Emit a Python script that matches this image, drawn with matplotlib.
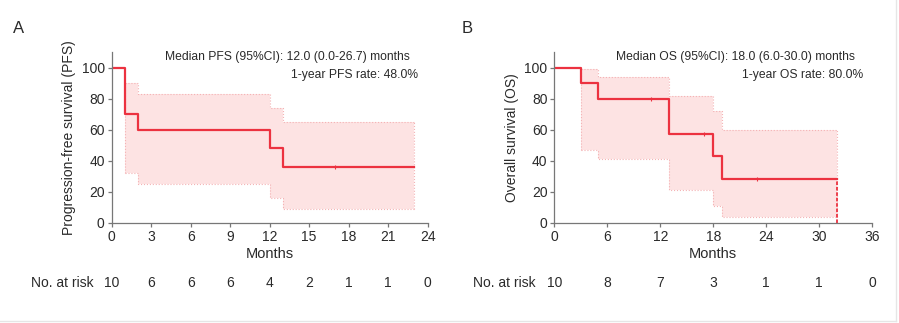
import numpy as np
import matplotlib.pyplot as plt
from matplotlib import transforms
from matplotlib.lines import Line2D

plt.rcParams['font.family'] = ['Liberation Sans', 'DejaVu Sans']

# Panel A: progression-free survival
pfs_t = [0, 1, 2, 12, 13, 23]
pfs_s = [100, 70, 60, 48, 36, 36]
pfs_lo = [100, 32, 25, 16, 9, 9]
pfs_hi = [100, 90, 83, 74, 65, 65]
pfs_cens = [17]
pfs_risk_t = [0, 3, 6, 9, 12, 15, 18, 21, 24]
pfs_risk = [10, 6, 6, 6, 4, 2, 1, 1, 0]

# Panel B: overall survival
os_t = [0, 3, 5, 13, 18, 19, 32]
os_s = [100, 90, 80, 57.1, 42.9, 28.6, 28.6]
os_lo = [100, 47, 41, 21, 11, 4, 4]
os_hi = [100, 99, 94, 82, 72, 60, 60]
os_cens = [11, 17, 23]
os_risk_t = [0, 6, 12, 18, 24, 30, 36]
os_risk = [10, 8, 7, 3, 1, 1, 0]

red = '#ec3240'
band = '#fde3e3'
edge = '#f4b3b5'
ink = '#2a2a2a'


def surv_at(t, times, vals):
    idx = np.searchsorted(times, t, side='right') - 1
    return vals[idx]


def km_panel(fig, rect, t, s, lo, hi, cens, rt, risk, xmax, xstep,
             ylab, txt1, txt2, letter, letter_x, risk_lab_x, drop_end=False):
    ax = fig.add_axes(rect)
    t = np.array(t, float)
    lo = np.array(lo, float)
    hi = np.array(hi, float)
    # confidence band (skip the 100% start segment)
    ax.fill_between(t[1:], lo[1:], hi[1:], step='post', color=band, lw=0)
    ax.step(t[1:], lo[1:], where='post', color=edge, lw=0.8, ls=':')
    ax.step(t[1:], hi[1:], where='post', color=edge, lw=0.8, ls=':')
    ax.vlines([t[1], t[-1]], [lo[1], lo[-1]], [hi[1], hi[-1]],
              color=edge, lw=0.8, ls=':')
    ax.step(t, s, where='post', color=red, lw=1.6)
    if drop_end:
        ax.vlines(t[-1], 0, s[-1], color=red, lw=1.3, ls=(0, (2, 1)))
    cy = [surv_at(c, t, s) for c in cens]
    ax.plot(cens, cy, ls='none', marker='|', ms=3, color=red, mew=0.8)

    ax.set_xlim(0, xmax)
    ax.set_ylim(0, 110)
    ax.set_xticks(np.arange(0, xmax + 1, xstep))
    ax.set_yticks(np.arange(0, 101, 20))
    for sp in ['top', 'right']:
        ax.spines[sp].set_visible(False)
    for sp in ['left', 'bottom']:
        ax.spines[sp].set_color('#777777')
        ax.spines[sp].set_linewidth(0.9)
    ax.tick_params(labelsize=10, length=3, width=0.9, color='#777777',
                   labelcolor=ink, pad=2)
    ax.set_xlabel('Months', fontsize=10.5, labelpad=2, color=ink)
    ax.set_ylabel(ylab, fontsize=10, labelpad=4, color=ink)

    ax.text(0.945, 0.97, txt1, transform=ax.transAxes, ha='right', va='center', fontsize=8.7, color=ink)
    ax.text(0.97, 0.865, txt2, transform=ax.transAxes, ha='right', va='center', fontsize=8.7, color=ink)

    tr = transforms.blended_transform_factory(ax.transData, fig.transFigure)
    for x, n in zip(rt, risk):
        ax.text(x, 0.123, str(n), transform=tr, ha='center', va='center', fontsize=10, color=ink, clip_on=False)
    fig.text(risk_lab_x, 0.123, 'No. at risk', ha='right', va='center', fontsize=10, color=ink)
    fig.text(letter_x, 0.913, letter, ha='left', va='center', fontsize=12, color=ink)
    return ax


fig = plt.figure(figsize=(8.99, 3.23), dpi=100)

km_panel(fig, [0.1242, 0.3096, 0.3515, 0.5294], pfs_t, pfs_s, pfs_lo, pfs_hi, pfs_cens,
         pfs_risk_t, pfs_risk, 24, 3, 'Progression-free survival (PFS)',
         'Median PFS (95%CI): 12.0 (0.0-26.7) months', '1-year PFS rate: 48.0%',
         'A', 0.014, 0.104)

km_panel(fig, [0.6166, 0.3096, 0.3537, 0.5294], os_t, os_s, os_lo, os_hi, os_cens,
         os_risk_t, os_risk, 36, 6, 'Overall survival (OS)',
         'Median OS (95%CI): 18.0 (6.0-30.0) months', '1-year OS rate: 80.0%',
         'B', 0.513, 0.596, drop_end=True)

# faint frame at the bottom and right edge of the image
fig.add_artist(Line2D([0, 0.997], [0.006, 0.006], transform=fig.transFigure, color='#e6e6e6', lw=1))
fig.add_artist(Line2D([0.997, 0.997], [0.006, 1], transform=fig.transFigure, color='#e6e6e6', lw=1))

fig.savefig('out.png', dpi=100)
